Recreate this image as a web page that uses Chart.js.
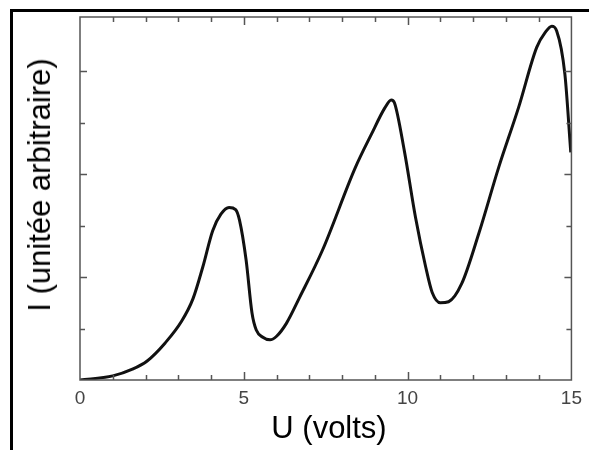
<!DOCTYPE html>
<html>
<head>
<meta charset="utf-8">
<script src="https://cdn.jsdelivr.net/npm/chart.js@4/dist/chart.umd.min.js"></script>
<style>
    html, body { margin: 0; padding: 0; background: #fff; }
    #wrap { position: relative; width: 589px; height: 450px; overflow: hidden; }
    #frame { position: absolute; left: 10px; top: 9px; width: 600px; height: 460px;
             border-top: 3px solid #000; border-left: 3px solid #000; }
    #CHART1 { position: absolute; left: 0; top: 0; }
    .title { position: absolute; font-family: "Liberation Sans", Arial, sans-serif;
             font-size: 31px; color: #000; white-space: nowrap; }
    #ytitle { left: 40px; top: 185px; transform: translate(-50%, -50%) rotate(-90deg); }
    #xtitle { left: 329px; top: 428px; transform: translate(-50%, -50%); }
</style>
</head>
<body>
<div id="wrap">
    <div id="frame"></div>
    <canvas id="CHART1" width="589" height="450"></canvas>
    <div class="title" id="ytitle">I (unitée arbitraire)</div>
    <div class="title" id="xtitle">U (volts)</div>
</div>
<script>
// DATA

const voltage = [0, 1.0, 1.6, 2.05, 2.6, 3.1, 3.45, 3.75, 4.05, 4.3, 4.55, 4.75, 4.87, 5.07, 5.25, 5.38,
    5.58, 5.8, 6.0, 6.3, 6.7, 7.4, 8.4, 8.9, 9.3, 9.5, 9.6, 9.9, 10.24, 10.55, 10.75, 11.0,
    11.25, 11.65, 12.17, 12.78, 13.39, 13.94, 14.2, 14.4, 14.55, 14.8, 14.98];
const current = [0, 0.08, 0.21, 0.37, 0.72, 1.14, 1.58, 2.2, 2.9, 3.22, 3.35, 3.31, 3.1, 2.33, 1.3, 0.97,
    0.83, 0.78, 0.85, 1.1, 1.6, 2.52, 4.12, 4.78, 5.28, 5.44, 5.38, 4.45, 3.16, 2.2, 1.7, 1.5,
    1.52, 1.87, 2.84, 4.13, 5.3, 6.46, 6.75, 6.87, 6.78, 5.94, 4.42];
const xTickLabels = [0, 5, 10, 15];
const xMinorTicks = [1, 2, 3, 4, 5, 6, 7, 8, 9, 10, 11, 12, 13, 14];
const yMinorTicks = [1, 2, 3, 4, 5, 6];

const points = voltage.map((v, i) => ({ x: v, y: current[i] }));

// inward tick marks on all four sides
const innerTicks = {
    id: 'innerTicks',
    afterDraw(chart) {
        const ctx = chart.ctx;
        const a = chart.chartArea;
        const xs = chart.scales.x;
        const ys = chart.scales.y;
        ctx.save();
        ctx.strokeStyle = '#555';
        ctx.lineWidth = 1.5;
        ctx.beginPath();
        xMinorTicks.forEach(v => {
            const px = Math.round(xs.getPixelForValue(v)) + 0.5;
            const len = (v % 5 === 0) ? 8 : 5;
            ctx.moveTo(px, a.bottom); ctx.lineTo(px, a.bottom - len);
            ctx.moveTo(px, a.top); ctx.lineTo(px, a.top + len);
        });
        yMinorTicks.forEach(v => {
            const py = Math.round(ys.getPixelForValue(v)) + 0.5;
            const len = (v % 2 === 0) ? 7 : 5;
            ctx.moveTo(a.left, py); ctx.lineTo(a.left + len, py);
            ctx.moveTo(a.right, py); ctx.lineTo(a.right - len, py);
        });
        ctx.stroke();
        ctx.strokeRect(a.left, a.top, a.right - a.left, a.bottom - a.top);
        ctx.restore();
    }
};

const chart1 = new Chart(document.getElementById("CHART1"), {
    type: "scatter",
    data: {
        datasets: [{
            data: points,
            showLine: true,
            borderColor: "#111",
            borderWidth: 3,
            pointRadius: 0,
            cubicInterpolationMode: "monotone",
            fill: false,
        }],
    },
    options: {
        responsive: false,
        animation: false,
        events: [],
        layout: { padding: { top: 17, right: 16, left: 0, bottom: 0 } },
        plugins: { legend: { display: false }, tooltip: { enabled: false } },
        scales: {
            x: {
                type: "linear",
                min: 0,
                max: 15,
                afterFit(scale) { scale.height = 70; },
                afterBuildTicks(scale) { scale.ticks = xTickLabels.map(v => ({ value: v })); },
                grid: { display: false, drawTicks: false },
                border: { display: false },
                ticks: {
                    padding: 7,
                    color: "#444",
                    font: { family: "'Liberation Sans', Arial, sans-serif", size: 19 },
                },
            },
            y: {
                min: 0,
                max: 7.05,
                afterFit(scale) { scale.width = 80; },
                grid: { display: false, drawTicks: false },
                border: { display: false },
                ticks: { display: false },
            },
        },
    },
    plugins: [innerTicks],
});
</script>
</body>
</html>
